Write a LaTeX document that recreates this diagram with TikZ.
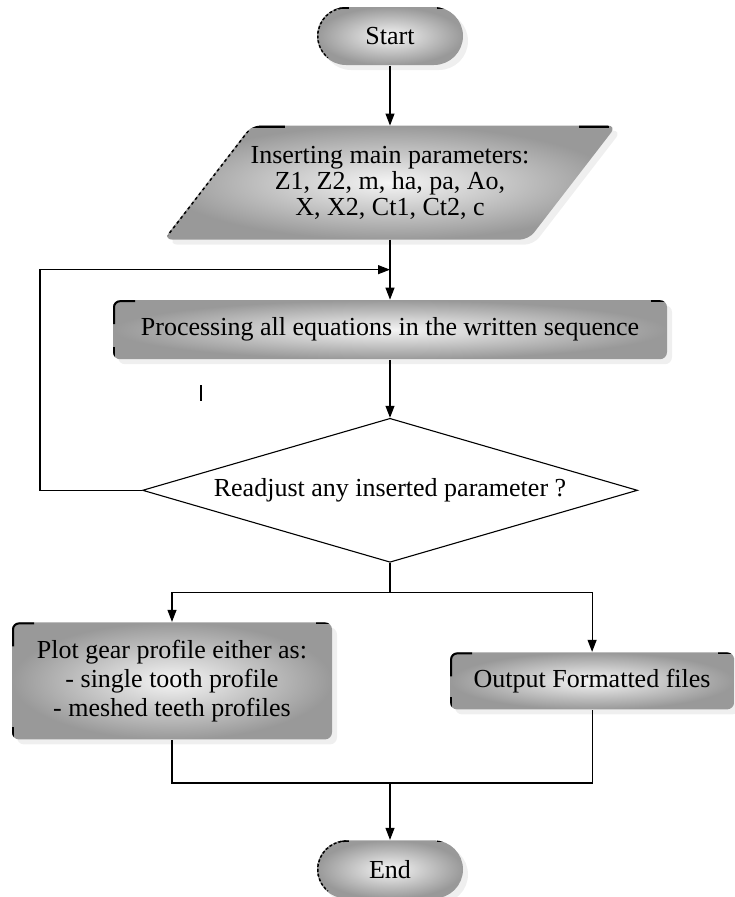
\documentclass[tikz,border=0pt]{standalone}
\usepackage{fontspec}
\setmainfont{Liberation Serif}
\usetikzlibrary{shapes.geometric, arrows.meta, positioning, calc, shadows, backgrounds}

\tikzset{
  shadebox/.style={inner color=black!4, outer color=black!40,
    drop shadow={shadow xshift=5pt, shadow yshift=-5pt, fill=black!12}},
  cornermarks/.style={path picture={
      \draw[line width=4pt] ([xshift=22pt]path picture bounding box.north west) -- (path picture bounding box.north west) -- ++(0,-24pt);
      \draw[line width=4pt] ([xshift=-16pt]path picture bounding box.north east) -- (path picture bounding box.north east);
      \draw[line width=4pt] (path picture bounding box.south west) -- ++(0,12pt);
    }},
  termmarks/.style={path picture={
      \draw[line width=4pt] ([xshift=18pt]path picture bounding box.north west) -- ++(14pt,0);
      \draw[line width=4pt] ([xshift=-18pt]path picture bounding box.north east) -- ++(-8pt,0);
      \draw[line width=3pt, dash pattern=on 3pt off 2pt] ([xshift=29pt]path picture bounding box.north west)
          arc[start angle=90, end angle=230, radius=29pt];
    }},
  iomarks/.style={path picture={
      \draw[line width=4pt] ([xshift=88pt]path picture bounding box.north west) -- ++(34pt,0);
      \draw[line width=4pt] ([xshift=-38pt]path picture bounding box.north east) -- ++(30pt,0);
      \draw[line width=3pt, dash pattern=on 3pt off 3pt] ([xshift=88pt]path picture bounding box.north west)
          -- (path picture bounding box.south west);
    }},
  terminal/.style={shadebox, termmarks, rectangle, rounded corners=29pt, minimum width=146pt, minimum height=58pt},
  io/.style={rectangle, minimum width=364pt, minimum height=113pt, align=center,
    font=\fontsize{26}{26}\selectfont},
  process/.style={shadebox, cornermarks, rectangle, rounded corners=7pt, minimum width=554pt, minimum height=59pt,
    align=center, font=\fontsize{26}{29}\selectfont},
  decision/.style={draw, diamond, aspect=3.44, minimum width=495pt, minimum height=144pt, inner sep=0pt}
}

\begin{document}
\begin{tikzpicture}[x=1pt, y=1pt, >={Triangle[length=12pt, width=9pt]}, line width=1.1pt,
    font=\fontsize{26}{29}\selectfont]
    \useasboundingbox (0,0) rectangle (734,-897);

    % Steps
    \node[terminal] (start) at (390,-36) {Start};
    \node[io, below=60pt of start] (params) {Inserting main parameters:\\ Z1, Z2, m, ha, pa, Ao,\\ X, X2, Ct1, Ct2, c};
    \node[process, below=60pt of params] (process) {Processing all equations in the written sequence};
    \node[decision, below=58pt of process] (decision) {Readjust any inserted parameter ?};
    \node[process, below=59pt of decision, xshift=-218pt, minimum width=320pt, minimum height=117pt] (plot)
        {Plot gear profile either as:\\ - single tooth profile\\ - meshed teeth profiles};
    \node[process, right=117pt of plot, minimum width=284pt, minimum height=57pt] (output) {Output Formatted files};
    \node[terminal, below=277pt of decision] (end) {End};

    % Parallelogram behind the parameters
    \begin{scope}[on background layer]
        \path[shadebox, iomarks, rounded corners=9pt] ([xshift=44pt]params.north west) -- ([xshift=44pt]params.north east)
            -- ([xshift=-44pt]params.south east) -- ([xshift=-44pt]params.south west) -- cycle;
    \end{scope}

    % Main flow
    \draw[->] (start) -- (params);
    \coordinate (loopin) at ($(params.south)!0.5!(process.north)$);
    \draw[->] (params) -- (process);
    \draw[->] (process) -- (decision);

    % Readjust loop
    \draw[->] (decision.west) -- ++(-102,0) |- (loopin);

    % Branches
    \draw (decision.south) -- ++(0,-30) coordinate (split);
    \draw[->] (split) -| (plot.north);
    \draw[->] (split) -| (output.north);

    % Merge
    \draw (plot.south) -- ++(0,-43) coordinate (merge) -| (output.south);
    \coordinate (mergeend) at (merge -| end.north);
    \draw[->] (mergeend) -- (end);

    % stray tick
    \draw[line width=2pt] (201,-385) -- (201,-401);
\end{tikzpicture}
\end{document}
